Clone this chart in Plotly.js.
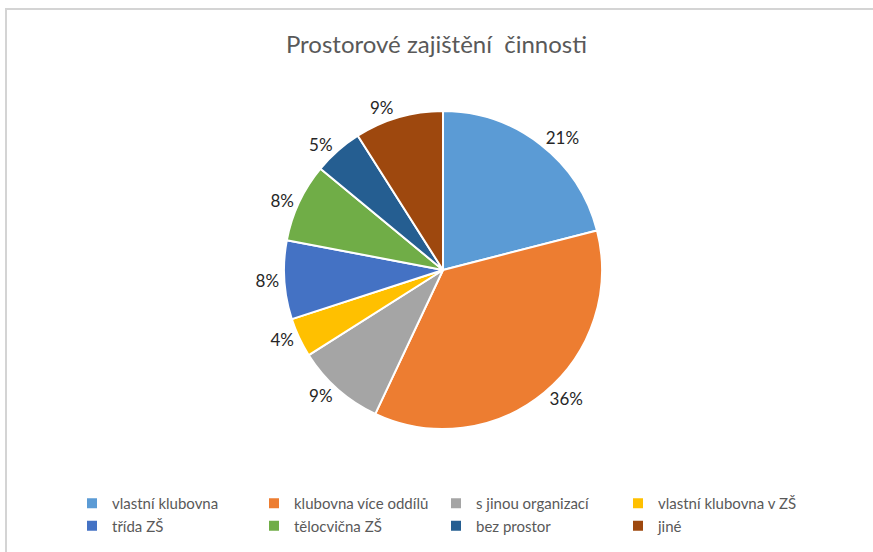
<!DOCTYPE html>
<html>
<head>
<meta charset="utf-8">
<script src="https://cdn.plot.ly/plotly-3.0.1.min.js"></script>
<style>
html,body{margin:0;padding:0;background:#fff;}
#wrap{position:relative;width:873px;height:552px;overflow:hidden;}
#frame{position:absolute;left:5px;top:8px;width:900px;height:600px;border-top:2px solid #d4d4d4;border-left:2px solid #d4d4d4;pointer-events:none;z-index:5;}
#chart{position:absolute;left:0;top:0;width:873px;height:552px;}
</style>
</head>
<body>
<div id="wrap"><div id="chart"></div><div id="frame"></div></div>
<script>
const categories = ["vlastní klubovna","klubovna více oddílů","s jinou organizací","vlastní klubovna v ZŠ","třída ZŠ","tělocvična ZŠ","bez prostor","jiné"];
const values = [21, 36, 9, 4, 8, 8, 5, 9];
const colors = ["#5B9BD5","#ED7D31","#A5A5A5","#FFC000","#4472C4","#70AD47","#255E91","#9E480E"];
const titleText = "Prostorové zajištění\u00a0 činnosti";

const W = 873, H = 552;
const cx = 443, cy = 270, R = 159;
const trace = {
  type: "pie",
  labels: categories,
  values: values,
  sort: false,
  direction: "clockwise",
  rotation: 0,
  marker: {colors: colors, line: {color: "#ffffff", width: 2}},
  textinfo: "percent",
  texttemplate: "%{percent:.0%}",
  textposition: "outside",
  outsidetextfont: {family: "Lato, 'Open Sans', sans-serif", size: 17, color: "#262626"},
  hoverinfo: "label+percent",
  domain: {x: [(cx - R) / W, (cx + R) / W], y: [(H - cy - R) / H, (H - cy + R) / H]}
};
const layout = {
  width: W, height: H,
  margin: {l: 0, r: 0, t: 0, b: 0},
  paper_bgcolor: "#ffffff",
  title: {text: titleText, x: 0.5, xanchor: "center", y: 1 - 45 / H, yanchor: "middle",
          font: {family: "Lato, 'Open Sans', sans-serif", size: 24, color: "#595959"}},
  showlegend: true,
  legend: {
    orientation: "h", x: 72 / W, xanchor: "left", y: 1 - 487 / H, yanchor: "top",
    entrywidth: 137, entrywidthmode: "pixels",
    font: {family: "Lato, 'Open Sans', sans-serif", size: 15, color: "#595959"},
    traceorder: "normal"
  }
};
Plotly.newPlot("chart", [trace], layout, {displayModeBar: false, staticPlot: true});
</script>
</body>
</html>
